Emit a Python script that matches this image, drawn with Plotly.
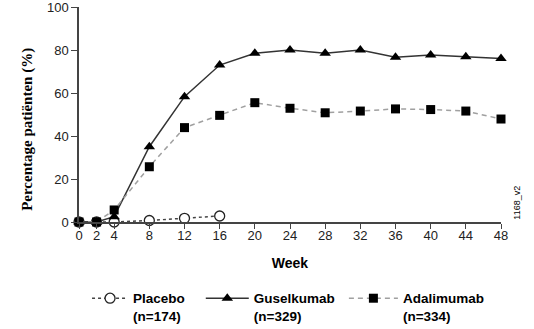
import plotly.graph_objects as go

# Weeks at which response was measured
weeks = [0, 2, 4, 8, 12, 16, 20, 24, 28, 32, 36, 40, 44, 48]
placebo_weeks = [0, 2, 4, 8, 12, 16]

# Percentage of patients per arm
placebo = [0, 0, 0, 0.7, 1.7, 2.8]
guselkumab = [0, 0, 2.5, 35, 58.3, 73, 78.5, 80, 78.5, 80, 76.6, 77.7, 76.9, 76]
adalimumab = [0, 0, 5.6, 25.7, 43.9, 49.6, 55.5, 52.9, 50.8, 51.6, 52.6, 52.3, 51.6, 47.9]

x_ticks = [0, 2, 4, 8, 12, 16, 20, 24, 28, 32, 36, 40, 44, 48]
y_ticks = [0, 20, 40, 60, 80, 100]

sans = "Liberation Sans, Arial, sans-serif"
serif = "Liberation Serif, Times New Roman, serif"

fig = go.Figure()

fig.add_trace(go.Scatter(
    x=placebo_weeks, y=placebo, name="Placebo<br>(n=174)",
    mode="lines+markers", legend="legend",
    line=dict(color="#444444", width=1.5, dash="3px,3px"),
    marker=dict(symbol="circle", size=10, color="white",
                line=dict(color="#222222", width=1.3)),
    cliponaxis=False,
))
fig.add_trace(go.Scatter(
    x=weeks, y=guselkumab, name="Guselkumab<br>(n=329)",
    mode="lines+markers", legend="legend2",
    line=dict(color="#333333", width=1.5),
    marker=dict(symbol="triangle-up", size=10, color="black"),
    cliponaxis=False,
))
fig.add_trace(go.Scatter(
    x=weeks, y=adalimumab, name="Adalimumab<br>(n=334)",
    mode="lines+markers", legend="legend3",
    line=dict(color="#a0a0a0", width=1.5, dash="5px,4px"),
    marker=dict(symbol="square", size=9, color="black"),
    cliponaxis=False,
))


def legend_box(x, gap):
    return dict(
        orientation="h", xref="container", yref="container",
        x=x, xanchor="left", y=0.140, yanchor="top", valign="top",
        font=dict(family=sans, size=13.5, color="black", weight="bold"),
        itemwidth=gap, bgcolor="rgba(0,0,0,0)",
    )


fig.update_layout(
    width=534, height=329,
    margin=dict(l=79, r=33, t=7, b=107, autoexpand=False),
    paper_bgcolor="white", plot_bgcolor="white",
    font=dict(family=sans, size=13, color="#222222"),
    showlegend=True,
    legend=legend_box(0.163, 36),
    legend2=legend_box(0.376, 43),
    legend3=legend_box(0.644, 49),
    xaxis=dict(
        range=[0, 48], tickvals=x_ticks, ticktext=[str(v) for v in x_ticks],
        showgrid=False, zeroline=False, automargin=False,
        showline=True, linecolor="#444444", linewidth=1.5,
        ticks="outside", ticklen=5, tickwidth=1.3, tickcolor="#444444",
        ticklabelstandoff=-4,
        tickfont=dict(family=sans, size=13, color="#222222"),
        title=dict(text="<b>Week</b>", font=dict(family=sans, size=14, color="black"),
                   standoff=16),
    ),
    yaxis=dict(
        range=[0, 100], tickvals=y_ticks,
        showgrid=False, zeroline=False, automargin=False,
        showline=True, linecolor="#444444", linewidth=1.5,
        ticks="outside", ticklen=6, tickwidth=1.3, tickcolor="#444444",
        ticklabeloverflow="allow",
        tickfont=dict(family=sans, size=13, color="#222222"),
    ),
    annotations=[
        dict(text="<b>Percentage patiënten (%)</b>", textangle=-90,
             xref="paper", yref="paper", x=-0.121, y=0.433,
             xanchor="center", yanchor="middle", showarrow=False,
             font=dict(family=serif, size=15, color="black")),
        dict(text="1168_v2", textangle=-90,
             xref="paper", yref="paper", x=1.038, y=0.09,
             xanchor="center", yanchor="middle", showarrow=False,
             font=dict(family=sans, size=9, color="black")),
    ],
)

fig.write_html("out.html")
